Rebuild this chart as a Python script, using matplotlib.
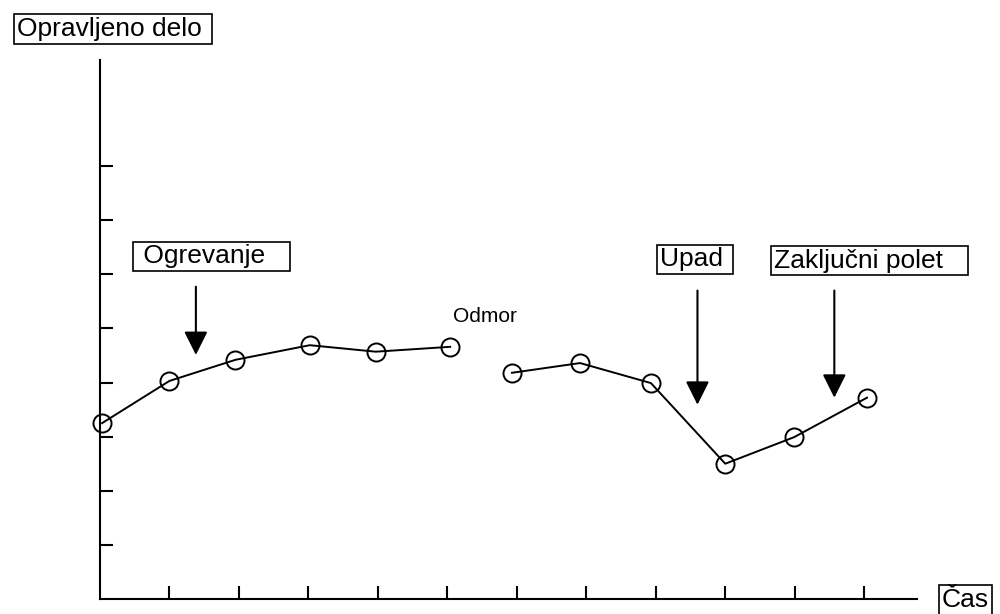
# Opravljeno delo skozi čas - rekonstrukcija grafa

import numpy as np
import matplotlib
matplotlib.use("Agg")
import matplotlib.pyplot as plt

plt.rcParams["font.family"] = ["Liberation Sans", "DejaVu Sans"]

# Podatki (odčitani s slike)
cas = [0.03, 1.0, 1.95, 3.02, 3.97, 5.04, 5.93, 6.91, 7.93, 9.0, 9.99, 11.04]
delo = [3.25, 4.03, 4.42, 4.69, 4.57, 4.66, 4.18, 4.36, 3.99, 2.50, 2.99, 3.72]
odmor_po = 6  # prekinitev črte po šestih točkah

x_ticks = list(range(1, 12))
y_ticks = list(range(1, 9))

# Oznake s puščicami: besedilo, x besedila, y besedila, x puščice, vrh, konica
oznake = [" Ogrevanje   ", "Upad ", "Zaključni polet   "]
oznake_x = [0.518, 8.06, 9.70]
oznake_y = [6.33, 6.28, 6.25]
puscice_x = [1.38, 8.60, 10.57]
puscice_vrh = [5.77, 5.70, 5.70]
puscice_konica = [4.51, 3.59, 3.72]

fig = plt.figure(figsize=(10, 6.14), dpi=100)
ax = fig.add_axes([0.1, 15 / 614, 0.817, 539 / 614])

# Črta s krogci (dva dela, vmes odmor)
for sl in [slice(0, odmor_po), slice(odmor_po, None)]:
    ax.plot(cas[sl], delo[sl], color="black", linewidth=1.4,
            marker="o", markersize=13, markerfacecolor="none",
            markeredgecolor="black", markeredgewidth=1.4, clip_on=False)

# Puščice
for x, y0, y1 in zip(puscice_x, puscice_vrh, puscice_konica):
    ax.annotate("", xy=(x, y1), xytext=(x, y0),
                arrowprops=dict(arrowstyle="-|>,head_length=0.72,head_width=0.36",
                                mutation_scale=20, color="black", lw=1.5,
                                shrinkA=0, shrinkB=0))

box = dict(boxstyle="square,pad=0.1", facecolor="white", edgecolor="black", linewidth=1.2)

for t, x, y in zip(oznake, oznake_x, oznake_y):
    ax.text(x, y, t, fontsize=19, ha="left", va="center", bbox=box)

ax.text(5.08, 5.12, "Odmor", fontsize=15, ha="left", va="baseline")

# Naslova osi
fig.text(0.017, 1 - 29 / 614, "Opravljeno delo ", fontsize=19, ha="left", va="center", bbox=box)
fig.text(0.942, 1 - 600 / 614, "Čas", fontsize=19, ha="left", va="center", bbox=box)

# Osi
ax.set_xlim(0, 11.76)
ax.set_ylim(0, 9.96)
ax.set_xticks(x_ticks)
ax.set_yticks(y_ticks)
ax.set_xticklabels([])
ax.set_yticklabels([])
ax.tick_params(direction="in", length=9.5, width=1.5)
ax.spines["top"].set_visible(False)
ax.spines["right"].set_visible(False)
ax.spines["left"].set_linewidth(1.5)
ax.spines["bottom"].set_linewidth(1.5)
ax.patch.set_alpha(0)

plt.savefig("out.png", dpi=100)
